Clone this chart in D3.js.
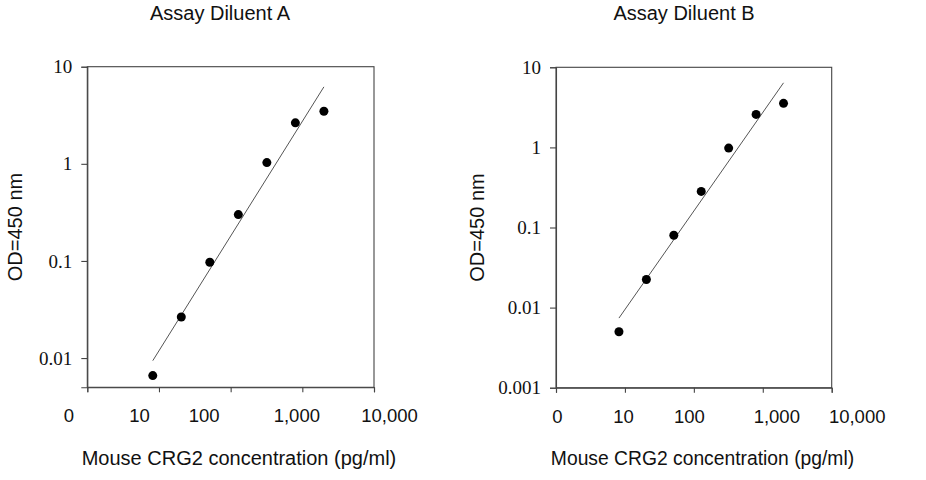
<!DOCTYPE html>
<html>
<head>
<meta charset="utf-8">
<script src="https://cdn.jsdelivr.net/npm/d3@7"></script>
<style>
  body { margin: 0; background: #fff; }
  svg { display: block; }
</style>
</head>
<body>
<div id="chart-area"></div>
<script>
// standard curve data
const concentration = [8.192, 20.48, 51.2, 128, 320, 800, 2000];
const odDiluentA = [0.0066, 0.0265, 0.097, 0.30, 1.03, 2.64, 3.48];
const odDiluentB = [0.0050, 0.0224, 0.080, 0.282, 0.98, 2.58, 3.55];

// fitted lines (log-log), endpoints
const fitX = [8.192, 2000];
const fitA = [0.0094, 6.2];
const fitB = [0.0074, 6.4];

const xTicks = [1, 10, 100, 1000, 10000];
const xTickLabels = ["0", "10", "100", "1,000", "10,000"];
const yTicksA = [0.01, 0.1, 1, 10];
const yTicksB = [0.001, 0.01, 0.1, 1, 10];
const yTickLabelsA = ["0.01", "0.1", "1", "10"];
const yTickLabelsB = ["0.001", "0.01", "0.1", "1", "10"];

const titles = ["Assay Diluent A", "Assay Diluent B"];
const xTitle = "Mouse CRG2 concentration (pg/ml)";
const yTitle = "OD=450 nm";

const svg = d3.select("#chart-area")
  .append("svg")
    .attr("width", 926)
    .attr("height", 480);

const sans = "'Liberation Sans', Arial, sans-serif";
const serif = "'Liberation Serif', 'Times New Roman', serif";

const panels = [
  {
    title: titles[0], od: odDiluentA, fit: fitA,
    yTicks: yTicksA, yLabels: yTickLabelsA, yMin: 0.005,
    left: 87.3, right: 374, top: 66.7, bottom: 387.3,
    titleX: 220, yTitleX: 15, xTitleX: 239, xTitleSize: 20,
    labelShift: [-19, -20, -27, -6, 15]
  },
  {
    title: titles[1], od: odDiluentB, fit: fitB,
    yTicks: yTicksB, yLabels: yTickLabelsB, yMin: 0.001,
    left: 556, right: 831.7, top: 67.3, bottom: 387.7,
    titleX: 684, yTitleX: 477, xTitleX: 702.5, xTitleSize: 19.3,
    labelShift: [1, -2, -5, 13.5, 25]
  }
];

panels.forEach(p => drawPanel(p));

function drawPanel(p) {
  const width = p.right - p.left;
  const height = p.bottom - p.top;

  const g = svg.append("g")
    .attr("transform", `translate(${p.left}, ${p.top})`);

  const x = d3.scaleLog()
    .domain([1, 10000])
    .range([0, width]);

  const y = d3.scaleLog()
    .domain([p.yMin, 10])
    .range([height, 0]);

  // frame
  g.append("rect")
    .attr("width", width)
    .attr("height", height)
    .attr("fill", "none")
    .attr("stroke", "#444")
    .attr("stroke-width", 1.1);

  const xAxisCall = d3.axisBottom(x)
    .tickValues(xTicks)
    .tickSize(5)
    .tickPadding(17)
    .tickFormat((d, i) => xTickLabels[i]);

  const xAxisGroup = g.append("g")
    .attr("transform", `translate(0, ${height})`)
    .call(xAxisCall);

  xAxisGroup.selectAll("text")
    .attr("font-family", sans)
    .attr("font-size", "18.5px")
    .attr("fill", "#111")
    .attr("x", (d, i) => p.labelShift[i]);

  const yAxisCall = d3.axisLeft(y)
    .tickValues(p.yTicks)
    .tickSize(6)
    .tickPadding(9)
    .tickFormat((d, i) => p.yLabels[i]);

  const yAxisGroup = g.append("g")
    .call(yAxisCall);

  yAxisGroup.selectAll("text")
    .attr("font-family", serif)
    .attr("font-size", "19px")
    .attr("fill", "#111");

  [xAxisGroup, yAxisGroup].forEach(ax => {
    ax.select(".domain").attr("stroke", "#444").attr("stroke-width", 1.1);
    ax.selectAll(".tick line").attr("stroke", "#444").attr("stroke-width", 1.1);
  });

  // fitted line
  const line = d3.line()
    .x(d => x(d[0]))
    .y(d => y(d[1]));

  g.append("path")
    .datum(d3.zip(fitX, p.fit))
    .attr("d", line)
    .attr("fill", "none")
    .attr("stroke", "#555")
    .attr("stroke-width", 1);

  g.selectAll("circle")
    .data(d3.zip(concentration, p.od))
    .enter()
    .append("circle")
    .attr("cx", d => x(d[0]))
    .attr("cy", d => y(d[1]))
    .attr("r", 4.5)
    .attr("fill", "#000");

  svg.append("text")
    .attr("x", p.titleX)
    .attr("y", 20)
    .attr("font-family", sans)
    .attr("font-size", "20px")
    .attr("text-anchor", "middle")
    .attr("fill", "#111")
    .text(p.title);

  svg.append("text")
    .attr("x", p.xTitleX)
    .attr("y", 465)
    .attr("font-family", sans)
    .attr("font-size", p.xTitleSize + "px")
    .attr("text-anchor", "middle")
    .attr("fill", "#111")
    .text(xTitle);

  svg.append("text")
    .attr("transform", `translate(${p.yTitleX + 7}, ${p.top + height / 2}) rotate(-90)`)
    .attr("font-family", sans)
    .attr("font-size", "20px")
    .attr("text-anchor", "middle")
    .attr("fill", "#111")
    .text(yTitle);
}
</script>
</body>
</html>
